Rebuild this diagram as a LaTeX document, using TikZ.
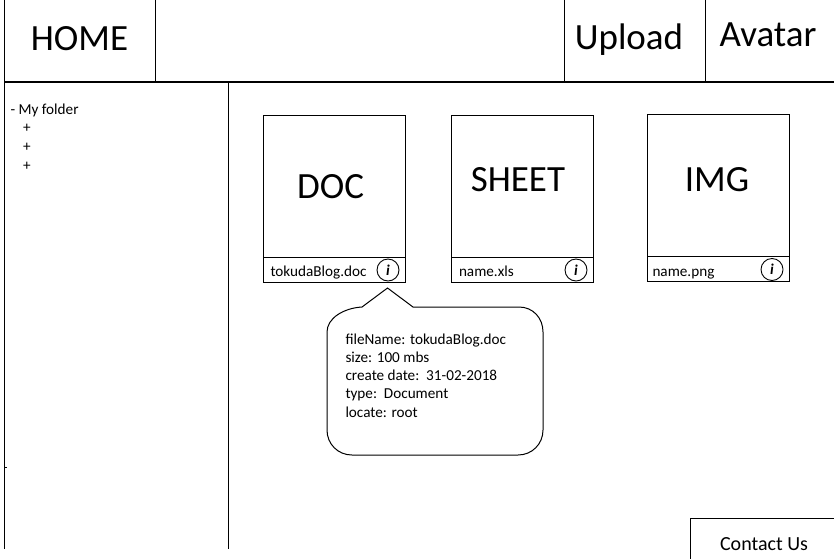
\documentclass[tikz,border=0pt]{standalone}
\usepackage{fontspec}
\setmainfont{Carlito}
\begin{document}
\begin{tikzpicture}[x=1pt,y=-1pt,line width=1pt,
  big/.style={font=\fontsize{37}{44}\selectfont,inner sep=0,anchor=base},
  small/.style={font=\fontsize{15.2}{18}\selectfont,inner sep=0,anchor=base west},
  infobtn/.style={draw,circle,line width=0.9pt,minimum size=22pt,inner sep=0,font=\fontsize{15}{15}\selectfont\itshape\bfseries},
  cardbox/.style={draw,line width=1pt}]
\useasboundingbox (0,0) rectangle (834,558);
% header and frame
\draw[line width=1.4pt] (4,82) -- (834,82);
\draw (4,0) -- (4,549);
\draw (4,467) -- (7,467);
\draw (155,0) -- (155,82);
\draw (564,0) -- (564,82);
\draw (705,0) -- (705,82);
\draw (228,82) -- (228,549);
\node[big] (home) at (79.5,50) {HOME};
\node[big] (upload) at (629,49) {Upload};
\node[big] (avatar) at (768,46) {Avatar};
% sidebar
\node[small] (folder) at (10,114) {- My folder};
\node[small,anchor=center] (p1) at (27,128) {+};
\node[small,anchor=center] (p2) at (27,147) {+};
\node[small,anchor=center] (p3) at (27,166) {+};
% cards
\draw[cardbox] (263.5,115.5) rectangle (405.5,282.5);
\draw (263.5,257.5) -- (405.5,257.5);
\draw[cardbox] (451.5,115.5) rectangle (593.5,282.5);
\draw (451.5,257.5) -- (593.5,257.5);
\draw[cardbox] (647.5,114.5) rectangle (789.5,281.5);
\draw (647.5,256.5) -- (789.5,256.5);
\node[big] (doc) at (330.5,198) {DOC};
\node[big] (sheet) at (518,191.5) {SHEET};
\node[big] (img) at (717,191.5) {IMG};
\node[small] (n1) at (270,276) {tokudaBlog.doc};
\node[small] (n2) at (458.5,276) {name.xls};
\node[small] (n3) at (652,276) {name.png};
\node[infobtn] (i1) at (388,270) {i};
\node[infobtn] (i2) at (576,270) {i};
\node[infobtn] (i3) at (772,269.5) {i};
% callout
\draw (362,307) -- (387.5,288) -- (413,307) -- (519,307)
  .. controls (533,307) and (543,318) .. (543,332)
  -- (543,430) .. controls (543,444) and (532,455) .. (518,455)
  -- (352,455) .. controls (338,455) and (327,444) .. (327,430)
  -- (327,332) .. controls (327,318) and (344,308) .. (362,307) -- cycle;
\node[small] (t1) at (345,344) {fileName: tokudaBlog.doc};
\node[small] (t2) at (345,362.3) {size: 100 mbs};
\node[small] (t3) at (345,380.6) {create date:\ \ 31-02-2018};
\node[small] (t4) at (345,398.9) {type:\ \ Document};
\node[small] (t5) at (345,417.2) {locate: root};
% contact
\draw (690,560) -- (690,518.5) -- (836,518.5);
\node[font=\fontsize{20}{24}\selectfont,inner sep=0,anchor=base] (contact) at (764,550) {Contact Us};
\end{tikzpicture}
\end{document}
